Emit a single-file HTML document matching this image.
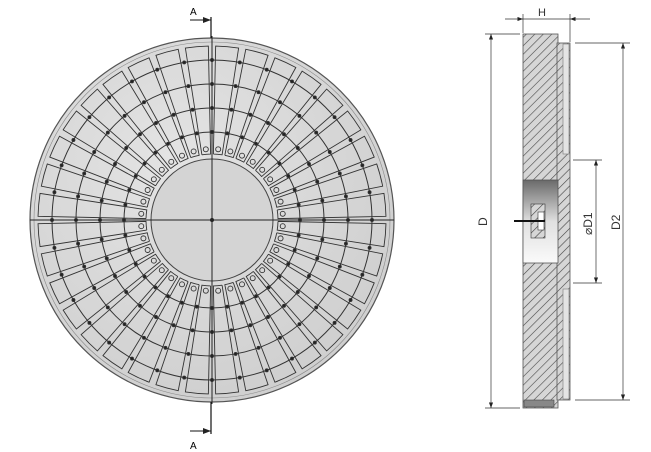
<!DOCTYPE html>
<html><head><meta charset="utf-8"><style>
html,body{margin:0;padding:0;background:#fff;}
svg{display:block;font-family:"Liberation Sans",sans-serif;}
</style></head><body>
<svg id="s" width="651" height="452" viewBox="0 0 651 452" xmlns="http://www.w3.org/2000/svg">
<defs>
<radialGradient id="g" cx="0.4" cy="0.35" r="0.8"><stop offset="0" stop-color="#e4e4e4"/><stop offset="1" stop-color="#cbcbcb"/></radialGradient>
<linearGradient id="hole" x1="0" y1="0" x2="0" y2="1"><stop offset="0" stop-color="#6a6a6a"/><stop offset="0.5" stop-color="#e0e0e0"/><stop offset="1" stop-color="#fafafa"/></linearGradient>
<pattern id="h" width="6" height="6" patternUnits="userSpaceOnUse" patternTransform="rotate(45)"><rect width="6" height="6" fill="#d6d6d6"/><line x1="0" y1="0" x2="0" y2="6" stroke="#444" stroke-width="1.2"/></pattern>
<marker id="ar" markerWidth="8" markerHeight="6" refX="8" refY="3" orient="auto"><path d="M0,0 L8,3 L0,6z" fill="#222"/></marker>
</defs>
<circle cx="212" cy="220" r="182" fill="url(#g)" stroke="#555" stroke-width="1.2"/>
<circle cx="212" cy="220" r="178" fill="none" stroke="#888" stroke-width="0.6"/>
<g id="tiles" fill="none" stroke="#333" stroke-width="0.9"></g>
<circle cx="212" cy="220" r="61" fill="#d4d4d4" stroke="#444" stroke-width="1"/>
<line x1="30" y1="220" x2="394" y2="220" stroke="#222" stroke-width="1"/>
<line x1="212" y1="36" x2="212" y2="404" stroke="#222" stroke-width="1"/>
<circle cx="212" cy="220" r="2" fill="#222"/>
<line x1="211" y1="17" x2="211" y2="38" stroke="#111" stroke-width="1.2"/>
<line x1="190" y1="20" x2="211" y2="20" stroke="#111" stroke-width="1" marker-end="url(#ar)"/>
<text x="190" y="15" font-size="10">A</text>
<line x1="211" y1="402" x2="211" y2="434" stroke="#111" stroke-width="1.2"/>
<line x1="190" y1="431" x2="211" y2="431" stroke="#111" stroke-width="1" marker-end="url(#ar)"/>
<text x="190" y="449" font-size="10">A</text>
<rect x="523" y="34" width="35" height="374" fill="url(#h)" stroke="#555" stroke-width="0.8"/>
<rect x="557" y="43" width="13" height="357" fill="url(#h)" stroke="#555" stroke-width="0.8"/>
<rect x="563" y="44" width="6" height="110" fill="#e4e4e4" stroke="#777" stroke-width="0.6"/>
<rect x="563" y="289" width="6" height="110" fill="#e4e4e4" stroke="#777" stroke-width="0.6"/>
<rect x="523" y="180" width="35" height="83" fill="url(#hole)" stroke="#555" stroke-width="0.8"/>
<rect x="531" y="204" width="14" height="34" fill="url(#h)" stroke="#333" stroke-width="0.6"/>
<rect x="538" y="212" width="6" height="18" fill="#fff" stroke="#333" stroke-width="0.6"/>
<line x1="514" y1="221" x2="545" y2="221" stroke="#111" stroke-width="2"/>
<rect x="524" y="400" width="30" height="7" fill="#888" stroke="#444" stroke-width="0.6"/>
<g stroke="#333" stroke-width="0.7">
<line x1="523" y1="14" x2="523" y2="33"/><line x1="570" y1="14" x2="570" y2="42"/>
<line x1="505" y1="19" x2="523" y2="19" marker-end="url(#ar)"/><line x1="590" y1="19" x2="570" y2="19" marker-end="url(#ar)"/>
<line x1="523" y1="19" x2="570" y2="19"/>
<line x1="485" y1="34" x2="520" y2="34"/><line x1="485" y1="408" x2="520" y2="408"/>
<line x1="491" y1="220" x2="491" y2="34" marker-end="url(#ar)"/><line x1="491" y1="220" x2="491" y2="408" marker-end="url(#ar)"/>
<line x1="575" y1="43" x2="630" y2="43"/><line x1="575" y1="400" x2="630" y2="400"/>
<line x1="623" y1="220" x2="623" y2="43" marker-end="url(#ar)"/><line x1="623" y1="220" x2="623" y2="400" marker-end="url(#ar)"/>
<line x1="573" y1="160" x2="602" y2="160"/><line x1="573" y1="283" x2="602" y2="283"/>
<line x1="596" y1="220" x2="596" y2="160" marker-end="url(#ar)"/><line x1="596" y1="220" x2="596" y2="283" marker-end="url(#ar)"/>
</g>
<text x="538" y="16" font-size="11" fill="#333">H</text>
<text transform="translate(487,226) rotate(-90)" font-size="12" fill="#333">D</text>
<text transform="translate(620,230) rotate(-90)" font-size="12" fill="#333">D2</text>
<text transform="translate(592,235) rotate(-90)" font-size="12" fill="#333">⌀D1</text>
</svg>
<script>
var g=document.getElementById('tiles'),cx=212,cy=220,ns='http://www.w3.org/2000/svg';
function P(r,a){return [cx+r*Math.cos(a),cy+r*Math.sin(a)];}
function add(tag,at){var e=document.createElementNS(ns,tag);for(var k in at)e.setAttribute(k,at[k]);g.appendChild(e);return e;}
var N=36;
for(var i=0;i<N;i++){
 var a0=(i*10+1.2)*Math.PI/180,a1=((i+1)*10-1.2)*Math.PI/180;
 var r0=66,r1=174;
 var p1=P(r0,a0),p2=P(r1,a0),p3=P(r1,a1),p4=P(r0,a1);
 add('path',{d:'M'+p1+' L'+p2+' A'+r1+' '+r1+' 0 0 1 '+p3+' L'+p4+' A'+r0+' '+r0+' 0 0 0 '+p1});
 var am=(i*10+5)*Math.PI/180,q=P(71,am);
 add('circle',{cx:q[0],cy:q[1],r:2.5});
}
[88,112,136,160].forEach(function(r){
 add('circle',{cx:cx,cy:cy,r:r,'stroke-width':1});
 for(var i=0;i<N;i++){var q=P(r,(i*10)*Math.PI/180);add('circle',{cx:q[0],cy:q[1],r:1.5,fill:'#222'});}
});
</script>
</body></html>
